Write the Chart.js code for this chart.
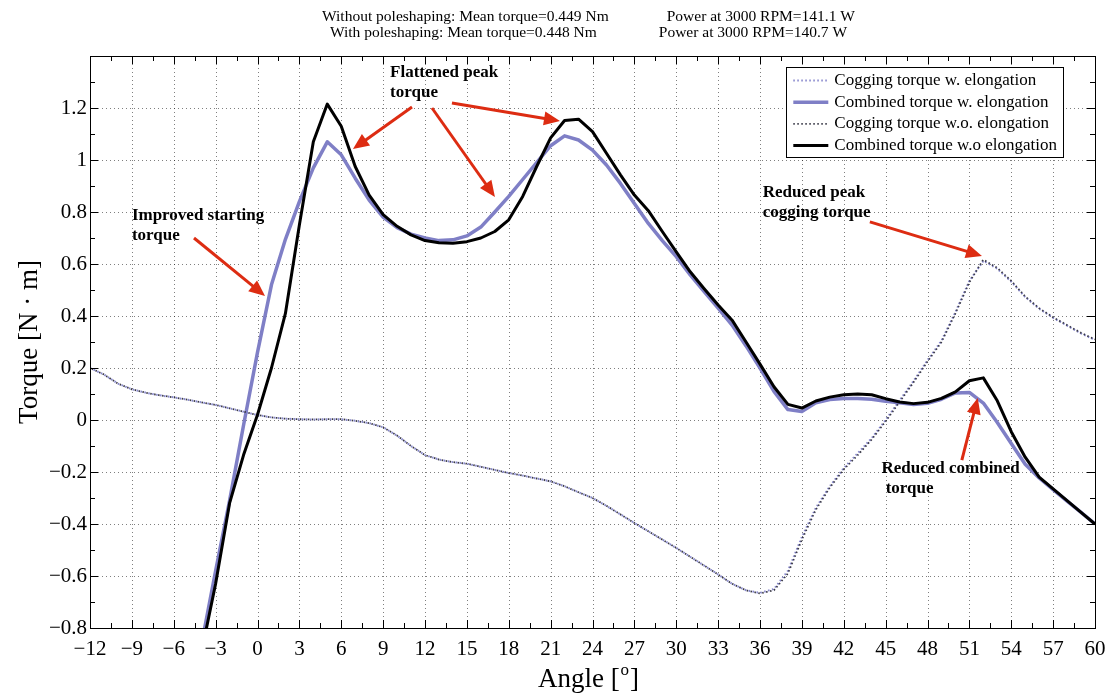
<!DOCTYPE html>
<html>
<head>
<meta charset="utf-8">
<script src="https://cdn.jsdelivr.net/npm/chart.js@4.4.1/dist/chart.umd.min.js"></script>
<style>
  html, body { margin: 0; padding: 0; background: #fff; }
</style>
</head>
<body>
<canvas id="torque" width="1109" height="696"></canvas>
<script>
// angles [deg] for the cogging torque curves
const cogAngles = [-12, -11, -10, -9, -8, -7, -6, -5, -4, -3, -2, -1, 0, 1, 2, 3, 4, 5, 6, 7, 8, 9, 10, 11, 12,
  13, 14, 15, 16, 17, 18, 19, 20, 21, 22, 23, 24, 25, 26, 27, 28, 29, 30, 31, 32, 33, 34, 35, 36,
  37, 38, 39, 40, 41, 42, 43, 44, 45, 46, 47, 48, 49, 50, 51, 52, 53, 54, 55, 56, 57, 58, 59, 60];

// cogging torque w.o. elongation [N m]
const cogWithout = [0.20, 0.175, 0.14, 0.118, 0.105, 0.095, 0.087, 0.078, 0.068, 0.058, 0.045, 0.032, 0.019,
  0.010, 0.005, 0.003, 0.002, 0.003, 0.003, -0.003, -0.012, -0.028, -0.060, -0.100, -0.135,
  -0.152, -0.162, -0.168, -0.180, -0.192, -0.204, -0.214, -0.225, -0.236, -0.255, -0.278, -0.300,
  -0.330, -0.363, -0.396, -0.428, -0.460, -0.492, -0.526, -0.560, -0.594, -0.630, -0.655, -0.667,
  -0.655, -0.590, -0.460, -0.345, -0.260, -0.190, -0.135, -0.075, -0.005, 0.070, 0.145, 0.225,
  0.300, 0.410, 0.530, 0.617, 0.585, 0.535, 0.475, 0.430, 0.395, 0.365, 0.335, 0.310];

// cogging torque w. elongation [N m]
const cogWith = [0.20, 0.175, 0.14, 0.118, 0.105, 0.095, 0.087, 0.078, 0.068, 0.058, 0.045, 0.032, 0.019,
  0.010, 0.005, 0.003, 0.002, 0.003, 0.003, -0.003, -0.012, -0.028, -0.060, -0.100, -0.135,
  -0.152, -0.162, -0.168, -0.180, -0.192, -0.204, -0.214, -0.225, -0.236, -0.255, -0.278, -0.300,
  -0.330, -0.363, -0.396, -0.428, -0.460, -0.492, -0.526, -0.560, -0.594, -0.630, -0.655, -0.665,
  -0.650, -0.580, -0.450, -0.338, -0.255, -0.185, -0.128, -0.070, 0.000, 0.075, 0.150, 0.230,
  0.305, 0.415, 0.535, 0.612, 0.582, 0.532, 0.473, 0.428, 0.393, 0.363, 0.333, 0.308];

// angles [deg] for the combined torque curves
const combAngles = [-5, -4, -3, -2, -1, 0, 1, 2, 3, 4, 5, 6, 7, 8, 9, 10, 11, 12, 13, 14, 15, 16, 17, 18,
  19, 20, 21, 22, 23, 24, 25, 26, 27, 28, 29, 30, 31, 32, 33, 34, 35, 36, 37, 38, 39, 40, 41, 42,
  43, 44, 45, 46, 47, 48, 49, 50, 51, 52, 53, 54, 55, 56, 57, 58, 59, 60];

// combined torque w. elongation [N m]
const combWith = [-1.12, -0.86, -0.58, -0.31, -0.02, 0.26, 0.52, 0.695, 0.84, 0.97, 1.07, 1.02, 0.93,
  0.846, 0.78, 0.74, 0.715, 0.70, 0.69, 0.693, 0.708, 0.742, 0.80, 0.86, 0.925, 0.99, 1.055, 1.093,
  1.077, 1.038, 0.981, 0.91, 0.833, 0.756, 0.69, 0.628, 0.558, 0.494, 0.43, 0.365, 0.285, 0.20,
  0.11, 0.04, 0.033, 0.066, 0.079, 0.083, 0.083, 0.08, 0.072, 0.066, 0.06, 0.064, 0.08, 0.104,
  0.106, 0.065, -0.01, -0.09, -0.17, -0.223, -0.268, -0.312, -0.355, -0.40];

// combined torque w.o. elongation [N m]
const combWithout = [-1.14, -0.89, -0.63, -0.32, -0.135, 0.02, 0.20, 0.41, 0.75, 1.07, 1.215, 1.13, 0.975,
  0.865, 0.79, 0.745, 0.712, 0.69, 0.682, 0.68, 0.686, 0.70, 0.725, 0.77, 0.86, 0.975, 1.085, 1.152,
  1.157, 1.109, 1.026, 0.943, 0.865, 0.805, 0.725, 0.647, 0.57, 0.505, 0.442, 0.384, 0.30, 0.215,
  0.128, 0.06, 0.046, 0.073, 0.088, 0.097, 0.10, 0.097, 0.082, 0.069, 0.063, 0.068, 0.083, 0.108,
  0.151, 0.162, 0.074, -0.045, -0.143, -0.22, -0.265, -0.31, -0.355, -0.40];

const titleLines = [
  ['Without poleshaping: Mean torque=0.449 Nm', 'Power at 3000 RPM=141.1 W', 58],
  ['With poleshaping: Mean torque=0.448 Nm', 'Power at 3000 RPM=140.7 W', 62]
];

// annotation text (data coords of first line, left aligned)
const notes = [
  { lines: ['Flattened peak', 'torque'], x: 9.5, y: 1.335 },
  { lines: ['Improved starting', 'torque'], x: -9.0, y: 0.785 },
  { lines: ['Reduced peak', 'cogging torque'], x: 36.2, y: 0.873 },
  { lines: ['Reduced combined', ' torque'], x: 44.7, y: -0.188 }
];
// arrows: [fromX, fromY, toX, toY] in data coords
const arrows = [
  [-4.55, 0.70, 0.54, 0.477],
  [11.07, 1.204, 6.84, 1.042],
  [12.5, 1.20, 17.01, 0.858],
  [13.93, 1.219, 21.67, 1.15],
  [43.87, 0.762, 51.9, 0.631],
  [50.46, -0.154, 51.6, 0.085]
];

const SERIF = "'Liberation Serif', 'Times New Roman', serif";
const RED = '#dd2c12';

function pts(xs, ys) {
  return xs.map((x, i) => ({ x: x, y: ys[i] }));
}

function fmtTick(v) {
  const r = Math.round(v * 10) / 10;
  return String(r).replace('-', '\u2212');
}

const matlabAxes = {
  id: 'matlabAxes',
  beforeDatasetsDraw(chart) {
    const { ctx, chartArea: a, scales: { x, y } } = chart;
    ctx.save();
    ctx.strokeStyle = 'rgba(0,0,0,0.5)';
    ctx.lineWidth = 1;
    ctx.setLineDash([1, 3]);
    x.ticks.forEach(t => {
      const px = Math.round(x.getPixelForValue(t.value)) + 0.5;
      ctx.beginPath(); ctx.moveTo(px, a.top); ctx.lineTo(px, a.bottom); ctx.stroke();
    });
    y.ticks.forEach(t => {
      const py = Math.round(y.getPixelForValue(t.value)) + 0.5;
      ctx.beginPath(); ctx.moveTo(a.left, py); ctx.lineTo(a.right, py); ctx.stroke();
    });
    ctx.restore();
  },
  afterDatasetsDraw(chart) {
    const { ctx, chartArea: a, scales: { x, y } } = chart;
    ctx.save();
    ctx.strokeStyle = '#000';
    ctx.lineWidth = 1;
    ctx.setLineDash([]);
    ctx.strokeRect(Math.round(a.left) + 0.5, Math.round(a.top) + 0.5,
      Math.round(a.right - a.left), Math.round(a.bottom - a.top));

    // inward ticks, major and minor, on all four sides
    const xStep = 3, yStep = 0.2;
    ctx.beginPath();
    x.ticks.forEach((t, i) => {
      const vals = [[t.value, 8]];
      if (i < x.ticks.length - 1) vals.push([t.value + xStep / 2, 5]);
      vals.forEach(([v, len]) => {
        const px = Math.round(x.getPixelForValue(v)) + 0.5;
        ctx.moveTo(px, a.bottom); ctx.lineTo(px, a.bottom - len);
        ctx.moveTo(px, a.top); ctx.lineTo(px, a.top + len);
      });
    });
    y.ticks.forEach((t, i) => {
      const vals = [[t.value, 8]];
      if (i < y.ticks.length - 1) vals.push([t.value + yStep / 2, 5]);
      vals.forEach(([v, len]) => {
        const py = Math.round(y.getPixelForValue(v)) + 0.5;
        ctx.moveTo(a.left, py); ctx.lineTo(a.left + len, py);
        ctx.moveTo(a.right, py); ctx.lineTo(a.right - len, py);
      });
    });
    ctx.stroke();

    // arrows
    ctx.strokeStyle = RED;
    ctx.fillStyle = RED;
    ctx.lineWidth = 3;
    arrows.forEach(([x0, y0, x1, y1]) => {
      const ax = x.getPixelForValue(x0), ay = y.getPixelForValue(y0);
      const bx = x.getPixelForValue(x1), by = y.getPixelForValue(y1);
      const ang = Math.atan2(by - ay, bx - ax);
      const hl = 16, hw = 7;
      const cx = bx - hl * Math.cos(ang), cy = by - hl * Math.sin(ang);
      ctx.beginPath(); ctx.moveTo(ax, ay); ctx.lineTo(cx + 2 * Math.cos(ang), cy + 2 * Math.sin(ang)); ctx.stroke();
      ctx.beginPath();
      ctx.moveTo(bx, by);
      ctx.lineTo(cx - hw * Math.sin(ang), cy + hw * Math.cos(ang));
      ctx.lineTo(cx + hw * Math.sin(ang), cy - hw * Math.cos(ang));
      ctx.closePath(); ctx.fill();
    });

    // annotation text
    ctx.fillStyle = '#000';
    ctx.font = 'bold 17px ' + SERIF;
    ctx.textAlign = 'left';
    ctx.textBaseline = 'middle';
    notes.forEach(n => {
      const px = x.getPixelForValue(n.x), py = y.getPixelForValue(n.y);
      n.lines.forEach((s, i) => ctx.fillText(s, px, py + i * 20));
    });

    // legend box
    ctx.font = '17px ' + SERIF;
    const sets = chart.data.datasets;
    const order = [0, 1, 2, 3];
    const textW = Math.max(...order.map(i => ctx.measureText(sets[i].label).width));
    const rowH = 21.7, sample = 35;
    const boxW = textW + 48 + 6, boxH = 90;
    const bx = a.right - 32 - boxW, by = a.top + 11;
    ctx.fillStyle = '#fff';
    ctx.fillRect(bx, by, boxW, boxH);
    ctx.strokeStyle = '#000';
    ctx.lineWidth = 1;
    ctx.strokeRect(Math.round(bx) + 0.5, Math.round(by) + 0.5, Math.round(boxW), Math.round(boxH));
    order.forEach((idx, r) => {
      const ds = sets[idx];
      const cy = by + 13.5 + r * rowH;
      ctx.save();
      ctx.strokeStyle = ds.borderColor;
      ctx.lineWidth = ds.borderWidth;
      ctx.setLineDash(ds.borderDash || []);
      ctx.beginPath(); ctx.moveTo(bx + 7, cy); ctx.lineTo(bx + 7 + sample, cy); ctx.stroke();
      ctx.restore();
      ctx.fillStyle = '#000';
      ctx.fillText(ds.label, bx + 48, cy);
    });
    ctx.restore();
  },
  afterDraw(chart) {
    const { ctx, chartArea: a } = chart;
    const cx = (a.left + a.right) / 2 - 4;
    ctx.save();
    ctx.fillStyle = '#000';
    ctx.textBaseline = 'middle';
    ctx.textAlign = 'left';

    // two-line title
    ctx.font = '15.5px ' + SERIF;
    titleLines.forEach(([p1, p2, gap], i) => {
      const w1 = ctx.measureText(p1).width, w2 = ctx.measureText(p2).width;
      const start = cx - (w1 + gap + w2) / 2;
      const ty = 17 + i * 16;
      ctx.fillText(p1, start, ty);
      ctx.fillText(p2, start + w1 + gap, ty);
    });

    // x axis label with superscript degree
    ctx.font = '27px ' + SERIF;
    const partA = 'Angle [', partB = ']';
    ctx.save();
    ctx.font = '17px ' + SERIF;
    const wo = ctx.measureText('o').width;
    ctx.restore();
    const wA = ctx.measureText(partA).width, wB = ctx.measureText(partB).width;
    const lx = cx - (wA + wo + 2 + wB) / 2;
    const ly = 680;
    ctx.fillText(partA, lx, ly);
    ctx.font = '17px ' + SERIF;
    ctx.fillText('o', lx + wA + 1, ly - 9);
    ctx.font = '27px ' + SERIF;
    ctx.fillText(partB, lx + wA + wo + 2, ly);

    // y axis label
    ctx.translate(30, (a.top + a.bottom) / 2);
    ctx.rotate(-Math.PI / 2);
    ctx.textAlign = 'center';
    ctx.fillText('Torque [N \u00b7 m]', 0, 0);
    ctx.restore();
  }
};

const tickFont = { family: SERIF, size: 21 };

new Chart(document.getElementById('torque'), {
  type: 'line',
  data: {
    datasets: [
      { label: 'Cogging torque w. elongation', data: pts(cogAngles, cogWith),
        borderColor: '#8585cc', borderWidth: 2, borderDash: [1.5, 2.5], order: 3 },
      { label: 'Combined torque w. elongation', data: pts(combAngles, combWith),
        borderColor: '#7f7fc6', borderWidth: 3.5, order: 2 },
      { label: 'Cogging torque w.o. elongation', data: pts(cogAngles, cogWithout),
        borderColor: '#3a3a48', borderWidth: 1.8, borderDash: [1.5, 2.5], borderDashOffset: 2, order: 1 },
      { label: 'Combined torque w.o elongation', data: pts(combAngles, combWithout),
        borderColor: '#000', borderWidth: 3, order: 0 }
    ]
  },
  options: {
    responsive: false,
    animation: false,
    devicePixelRatio: 1,
    layout: { padding: { left: 0, right: 14, top: 56, bottom: 0 } },
    elements: { point: { radius: 0 }, line: { tension: 0, fill: false, borderJoinStyle: 'round' } },
    plugins: { legend: { display: false }, tooltip: { enabled: false }, title: { display: false } },
    scales: {
      x: {
        type: 'linear', min: -12, max: 60,
        grid: { display: false, drawTicks: false },
        border: { display: false },
        ticks: { stepSize: 3, autoSkip: false, maxRotation: 0, padding: 9, color: '#000', font: tickFont,
          callback: v => fmtTick(v) },
        afterFit(s) { s.height = 68; s.paddingLeft = 0; s.paddingRight = 0; }
      },
      y: {
        type: 'linear', min: -0.8, max: 1.4,
        grid: { display: false, drawTicks: false },
        border: { display: false },
        ticks: { stepSize: 0.2, padding: 3, color: '#000', font: tickFont,
          callback: v => (Math.abs(v - 1.4) < 1e-6 ? '' : fmtTick(v)) },
        afterFit(s) { s.width = 90; s.paddingTop = 0; s.paddingBottom = 0; }
      }
    }
  },
  plugins: [matlabAxes]
});
</script>
</body>
</html>
